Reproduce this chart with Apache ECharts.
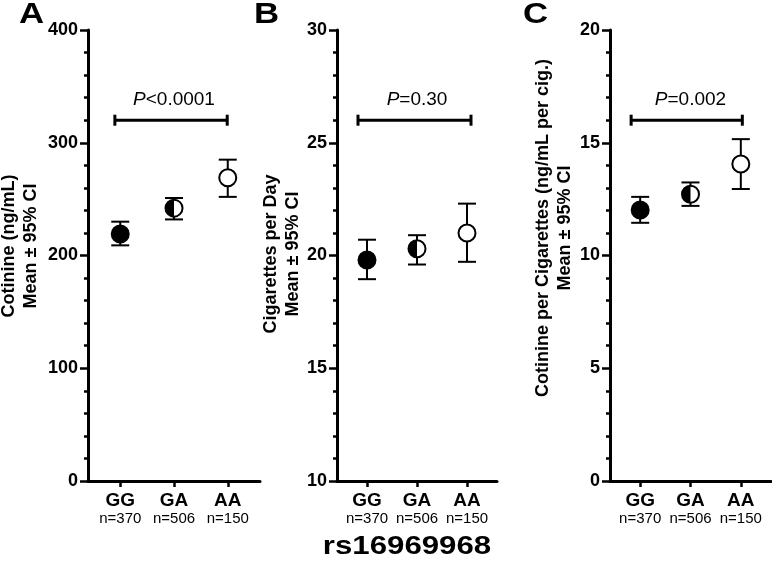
<!DOCTYPE html>
<html>
<head>
<meta charset="utf-8">
<script src="https://cdn.jsdelivr.net/npm/echarts@6/dist/echarts.min.js"></script>
<style>
html,body{margin:0;padding:0;background:#fff;}
#chart{width:772px;height:574px;}
</style>
</head>
<body>
<div id="chart"></div>
<script>
// ---- data ----
const categories = ['GG', 'GA', 'AA'];
const nLabels = ['n=370', 'n=506', 'n=150'];
const xPositions = [1, 2, 3];
const markerKinds = ['full', 'half', 'open'];

// Panel A: Cotinine (ng/mL)
const cotMean = [219, 242, 269];
const cotLow = [209, 232, 252];
const cotHigh = [230, 251, 285];

// Panel B: Cigarettes per Day
const cigMean = [19.8, 20.3, 21.0];
const cigLow = [18.95, 19.6, 19.72];
const cigHigh = [20.7, 20.9, 22.3];

// Panel C: Cotinine per cigarette
const cpcMean = [12.02, 12.72, 14.06];
const cpcLow = [11.45, 12.2, 12.95];
const cpcHigh = [12.6, 13.24, 15.16];

// P-value comparisons (GG vs AA)
const pTexts = ['<0.0001', '=0.30', '=0.002'];
const pBarValue = [320, 26, 16];
const pBarFrom = [0.9, 0.82, 0.82];
const pBarTo = [2.99, 3.08, 3.03];

// axes
const yMins = [0, 10, 0];
const yMaxs = [400, 30, 20];
const yIntervals = [100, 5, 5];
const yTitles = ['Cotinine (ng/mL)\nMean \u00b1 95% CI', 'Cigarettes per Day\nMean \u00b1 95% CI', 'Cotinine per Cigarettes (ng/mL per cig.)\nMean \u00b1 95% CI'];
const panelLetters = ['A', 'B', 'C'];
const xTitle = 'rs16969968';

// ---- build ----
const FONT = '"Liberation Sans", Arial, Helvetica, sans-serif';
const chart = echarts.init(document.getElementById('chart'), null, {renderer: 'canvas'});

const gridLefts = [88, 337, 610];
const gridWidths = [172, 160, 161];
const grids = gridLefts.map((l, i) => ({left: l, top: 30, width: gridWidths[i], height: 451}));

const xAxes = grids.map((g, i) => ({
  type: 'value', gridIndex: i, min: 0.4, max: 3.6,
  splitLine: {show: false},
  axisLine: {show: true, onZero: false, lineStyle: {color: '#000', width: 3}},
  axisTick: {show: true, customValues: xPositions, length: 6, lineStyle: {color: '#000', width: 2.5}},
  axisLabel: {
    show: true, customValues: xPositions, margin: 10,
    formatter: v => '{a|' + categories[Math.round(v) - 1] + '}\n{b|' + nLabels[Math.round(v) - 1] + '}',
    rich: {
      a: {fontFamily: FONT, fontWeight: 'bold', fontSize: 19, color: '#000', lineHeight: 19},
      b: {fontFamily: FONT, fontSize: 15, color: '#000', lineHeight: 17}
    }
  }
}));

const yAxes = grids.map((g, i) => ({
  type: 'value', gridIndex: i, min: yMins[i], max: yMaxs[i], interval: yIntervals[i],
  splitLine: {show: false},
  axisLine: {show: true, onZero: false, lineStyle: {color: '#000', width: 3}},
  axisTick: {show: true, length: 8, lineStyle: {color: '#000', width: 2.5}},
  minorTick: {show: true, splitNumber: 5, length: 4, lineStyle: {color: '#000', width: 2.5}},
  axisLabel: {show: true, margin: 10, fontFamily: FONT, fontWeight: 'bold', fontSize: 18, color: '#000'}
}));

const meanSets = [cotMean, cigMean, cpcMean];
const lowSets = [cotLow, cigLow, cpcLow];
const highSets = [cotHigh, cigHigh, cpcHigh];

function markerItem(params, api) {
  const x = api.value(0), m = api.value(1), lo = api.value(2), hi = api.value(3);
  const pm = api.coord([x, m]), pl = api.coord([x, lo]), ph = api.coord([x, hi]);
  const cw = 9, r = 8.5;
  const ls = {stroke: '#000', lineWidth: 2};
  const kind = markerKinds[params.dataIndex];
  const children = [
    {type: 'line', shape: {x1: pm[0], y1: ph[1], x2: pm[0], y2: pl[1]}, style: ls},
    {type: 'line', shape: {x1: pm[0] - cw, y1: ph[1], x2: pm[0] + cw, y2: ph[1]}, style: ls},
    {type: 'line', shape: {x1: pm[0] - cw, y1: pl[1], x2: pm[0] + cw, y2: pl[1]}, style: ls},
    {type: 'circle', shape: {cx: pm[0], cy: pm[1], r: r}, style: {fill: kind === 'full' ? '#000' : '#fff', stroke: '#000', lineWidth: 2}}
  ];
  if (kind === 'half') {
    children.push({type: 'sector', shape: {cx: pm[0], cy: pm[1], r0: 0, r: r, startAngle: Math.PI / 2, endAngle: Math.PI * 1.5, clockwise: true}, style: {fill: '#000'}});
  }
  return {type: 'group', children};
}

const bracketPanel = {};
function bracketItem(params, api) {
  const i = bracketPanel[params.seriesIndex];
  const x1 = api.value(0), x2 = api.value(1), y = api.value(2);
  const p1 = api.coord([x1, y]), p2 = api.coord([x2, y]);
  const pc = api.coord([2, y]);
  const ls = {stroke: '#000', lineWidth: 3};
  return {type: 'group', children: [
    {type: 'line', shape: {x1: p1[0], y1: p1[1], x2: p2[0], y2: p2[1]}, style: ls},
    {type: 'line', shape: {x1: p1[0], y1: p1[1] - 5.5, x2: p1[0], y2: p1[1] + 5.5}, style: ls},
    {type: 'line', shape: {x1: p2[0], y1: p2[1] - 5.5, x2: p2[0], y2: p2[1] + 5.5}, style: ls},
    {type: 'text', style: {
      text: '{i|P}{n|' + pTexts[i] + '}', x: pc[0], y: pc[1] - 11, align: 'center', verticalAlign: 'bottom',
      rich: {
        i: {fontFamily: FONT, fontStyle: 'italic', fontSize: 19, fill: '#000'},
        n: {fontFamily: FONT, fontSize: 19, fill: '#000'}
      }
    }}
  ]};
}

const series = [];
for (let i = 0; i < 3; i++) {
  series.push({
    type: 'custom', xAxisIndex: i, yAxisIndex: i, clip: false,
    encode: {x: 0, y: [1, 2, 3]},
    data: xPositions.map((x, k) => [x, meanSets[i][k], lowSets[i][k], highSets[i][k]]),
    renderItem: markerItem
  });
  bracketPanel[series.length] = i;
  series.push({
    type: 'custom', xAxisIndex: i, yAxisIndex: i, clip: false,
    encode: {x: [0, 1], y: 2},
    data: [[pBarFrom[i], pBarTo[i], pBarValue[i]]],
    renderItem: bracketItem
  });
}

const titlePos = [[20, 246], [282, 254], [554, 228]];
const letterPos = [[19, 29], [254, 29], [523, 29]];
const graphic = [];
for (let i = 0; i < 3; i++) {
  graphic.push({
    type: 'text', x: titlePos[i][0], y: titlePos[i][1], rotation: Math.PI / 2,
    style: {text: yTitles[i], align: 'center', verticalAlign: 'middle', fontFamily: FONT, fontWeight: 'bold', fontSize: 18, lineHeight: 22, fill: '#000'}
  });
  graphic.push({
    type: 'text', x: letterPos[i][0], y: letterPos[i][1], scaleX: 1.2,
    style: {text: panelLetters[i], align: 'left', verticalAlign: 'bottom', fontFamily: FONT, fontWeight: 'bold', fontSize: 29, fill: '#000'}
  });
}
graphic.push({
  type: 'text', x: 407, y: 547, scaleX: 1.2,
  style: {text: xTitle, align: 'center', verticalAlign: 'middle', fontFamily: FONT, fontWeight: 'bold', fontSize: 26, fill: '#000'}
});

chart.setOption({
  animation: false,
  backgroundColor: '#fff',
  textStyle: {fontFamily: FONT},
  grid: grids,
  xAxis: xAxes,
  yAxis: yAxes,
  series: series,
  graphic: graphic
});
</script>
</body>
</html>
